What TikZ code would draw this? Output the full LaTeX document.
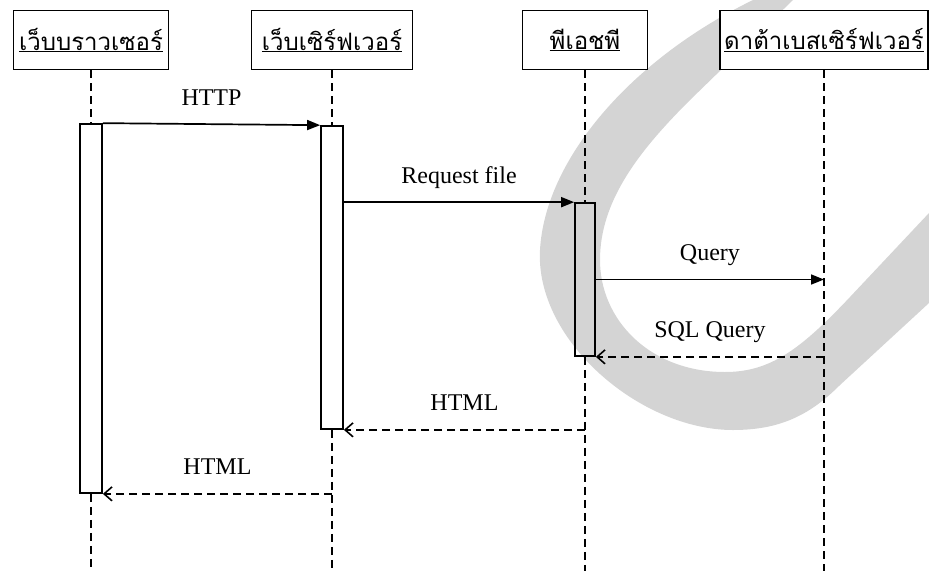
\documentclass[tikz,border=0pt]{standalone}
\usepackage{fontspec}
\setmainfont{Liberation Serif}
\newfontfamily\thaifont[Script=Thai]{Loma}
\usetikzlibrary{arrows.meta}
\definecolor{wmgray}{RGB}{212,212,212}
\begin{document}
\begin{tikzpicture}[x=1pt,y=-1pt,
  head/.style={draw, fill=white, line width=1.6pt, minimum height=59pt, inner sep=0pt, font=\thaifont\fontsize{24}{28}\selectfont},
  act/.style={draw, line width=1.7pt, minimum width=22pt, inner sep=0pt},
  lifeline/.style={line width=1.5pt, dash pattern=on 8pt off 5pt},
  msg/.style={line width=1.7pt, -{Triangle[length=13pt,width=10pt]}},
  ret/.style={line width=1.6pt, dash pattern=on 8pt off 5pt, -{Straight Barb[length=8pt,width=14pt]}},
  lbl/.style={midway, anchor=base, yshift=19pt, font=\fontsize{24}{28}\selectfont}]
\useasboundingbox (0,0) rectangle (929,571);
% watermark
\fill[wmgray] (753,0) .. controls (630,60) and (545,160) .. (540,250)
  .. controls (535,340) and (640,430) .. (733,430)
  .. controls (780,430) and (810,415) .. (840,385) -- (929,303) -- (929,213) -- (850,297)
  .. controls (800,350) and (770,372) .. (725,372)
  .. controls (650,372) and (600,320) .. (600,260)
  .. controls (600,200) and (640,150) .. (690,100) -- (793,0) -- cycle;
% objects
\node[head, minimum width=155pt] (browser) at (91,40){\underline{เว็บบราวเซอร์}};
\node[head, minimum width=161pt] (websrv) at (332,40){\underline{เว็บเซิร์ฟเวอร์}};
\node[head, minimum width=125pt] (php) at (585,40){\underline{พีเอชพี}};
\node[head, minimum width=208pt] (dbsrv) at (824,40){\underline{ดาต้าเบสเซิร์ฟเวอร์}};
\node[act, minimum height=369pt] (act1) at (91,308.5){};
\node[act, minimum height=303pt] (act2) at (332,277.5){};
\node[act, minimum width=20pt, minimum height=153pt] (act3) at (585,279.5){};
\coordinate (bottom) at (0,571);
% lifelines
\draw[lifeline](browser) -- (act1);
\draw[lifeline](act1.south) -- (act1.south |- bottom);
\draw[lifeline](websrv) -- (act2);
\draw[lifeline](act2.south) -- (act2.south |- bottom);
\draw[lifeline](php) -- (act3);
\draw[lifeline](act3.south) -- (act3.south |- bottom);
\draw[lifeline](dbsrv.south) -- (dbsrv.south |- bottom);
% messages
\draw[msg](act1.north east) -- node[lbl]{HTTP} (act2.north west);
\draw[msg](act2.east |- act3.north) -- node[lbl]{Request file} (act3.north west);
\draw[msg](act3.east) -- node[lbl]{Query} (act3.east -| dbsrv);
\draw[ret](act3.south east -| dbsrv) -- node[lbl]{SQL Query} (act3.south east);
\draw[ret](act2.south east -| php) -- node[lbl]{HTML} (act2.south east);
\draw[ret](act1.south east -| websrv) -- node[lbl]{HTML} (act1.south east);
\end{tikzpicture}
\end{document}
